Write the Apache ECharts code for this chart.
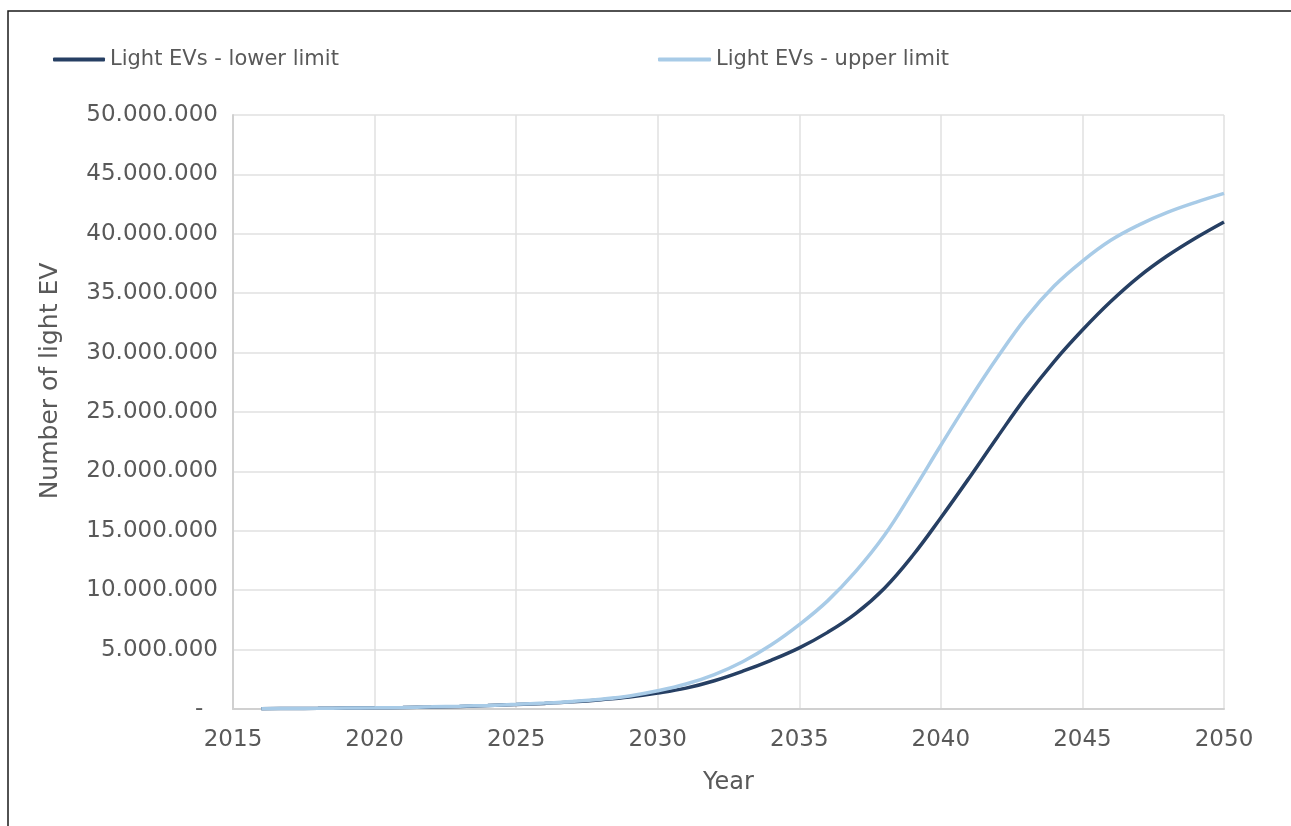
<!DOCTYPE html>
<html>
<head>
<meta charset="utf-8">
<script src="https://cdn.jsdelivr.net/npm/echarts@6/dist/echarts.min.js"></script>
<style>
html,body{margin:0;padding:0;background:#fff;}
#chart{width:1291px;height:826px;}
</style>
</head>
<body>
<div id="chart"></div>
<script>
const years = [2016,2017,2018,2019,2020,2021,2022,2023,2024,2025,2026,2027,2028,2029,2030,2031,2032,2033,2034,2035,2036,2037,2038,2039,2040,2041,2042,2043,2044,2045,2046,2047,2048,2049,2050];
const lowerLimit = [30000,45000,60000,80000,100000,130000,170000,220000,290000,370000,470000,600000,780000,1010000,1340000,1760000,2380000,3180000,4100000,5150000,6450000,8050000,10150000,12900000,16100000,19450000,22900000,26250000,29250000,31900000,34300000,36400000,38150000,39650000,41000000];
const upperLimit = [30000,45000,60000,80000,100000,135000,180000,235000,305000,390000,500000,640000,830000,1100000,1530000,2100000,2900000,3980000,5380000,7100000,9100000,11600000,14600000,18300000,22200000,26000000,29600000,32900000,35600000,37700000,39450000,40750000,41800000,42650000,43400000];
const seriesNames = ['Light EVs - lower limit','Light EVs - upper limit'];
const xAxisTitle = 'Year';
const yAxisTitle = 'Number of light EV';

const FONT = 'DejaVu Sans';
const TXT = '#595959';

function fmt(v){
  if (v === 0) return '-  ';
  return String(Math.round(v)).replace(/\B(?=(\d{3})+(?!\d))/g, '.');
}

const chart = echarts.init(document.getElementById('chart'));
chart.setOption({
  animation: false,
  backgroundColor: '#fff',
  textStyle: { fontFamily: FONT, color: TXT },
  graphic: [{
    type: 'rect',
    shape: { x: 8, y: 11, width: 1400, height: 1000 },
    style: { fill: 'none', stroke: '#1a1a1a', lineWidth: 1.5 },
    silent: true
  }, {
    type: 'text',
    x: 50, y: 381, rotation: Math.PI / 2,
    style: { text: yAxisTitle, fontFamily: FONT, fontSize: 25, fill: TXT, align: 'center', verticalAlign: 'middle' },
    silent: true
  }],
  legend: [
    { data: [seriesNames[0]], left: 48, top: 44, itemWidth: 52, itemHeight: 4, icon: 'roundRect', itemGap: 10,
      textStyle: { fontFamily: FONT, fontSize: 21, color: TXT } },
    { data: [seriesNames[1]], left: 653, top: 44, itemWidth: 53, itemHeight: 4, icon: 'roundRect', itemGap: 10,
      textStyle: { fontFamily: FONT, fontSize: 21, color: TXT } }
  ],
  grid: { left: 233, right: 67, top: 115, bottom: 117, containLabel: false },
  xAxis: {
    type: 'value', min: 2015, max: 2050, interval: 5,
    name: xAxisTitle, nameLocation: 'middle', nameGap: 62,
    nameTextStyle: { fontFamily: FONT, fontSize: 24, color: TXT },
    axisLine: { show: true, lineStyle: { color: '#d0d0d0', width: 2 } },
    axisTick: { show: false },
    axisLabel: { fontFamily: FONT, fontSize: 23, color: TXT, margin: 20, formatter: v => String(v) },
    splitLine: { show: true, lineStyle: { color: '#e0e0e0', width: 1.5 } }
  },
  yAxis: {
    type: 'value', min: 0, max: 50000000, interval: 5000000,
    axisLine: { show: true, lineStyle: { color: '#d0d0d0', width: 2 } },
    axisTick: { show: false },
    axisLabel: { fontFamily: FONT, fontSize: 23, color: TXT, margin: 15, formatter: fmt },
    splitLine: { show: true, lineStyle: { color: '#e0e0e0', width: 1.5 } }
  },
  series: [
    { name: seriesNames[0], type: 'line', smooth: 0.4, showSymbol: false, symbol: 'none',
      data: years.map((y,i)=>[y, lowerLimit[i]]),
      lineStyle: { color: '#263F63', width: 3.5 }, itemStyle: { color: '#263F63' }, z: 3 },
    { name: seriesNames[1], type: 'line', smooth: 0.4, showSymbol: false, symbol: 'none',
      data: years.map((y,i)=>[y, upperLimit[i]]),
      lineStyle: { color: '#A8CBE7', width: 3.5 }, itemStyle: { color: '#A8CBE7' }, z: 4 }
  ]
});
</script>
</body>
</html>
